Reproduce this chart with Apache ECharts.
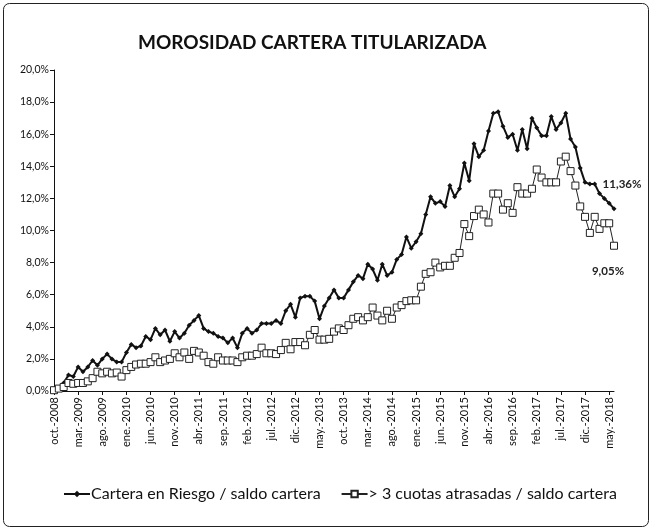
<!DOCTYPE html>
<html>
<head>
<meta charset="utf-8">
<script src="https://cdn.jsdelivr.net/npm/echarts@6/dist/echarts.min.js"></script>
<style>html,body{margin:0;padding:0;background:#fff}#c{width:653px;height:531px}</style>
</head>
<body>
<div id="c"></div>
<script>
var monthNames = ['ene.','feb.','mar.','abr.','may.','jun.','jul.','ago.','sep.','oct.','nov.','dic.'];
var startYear = 2008, startMonth = 9, monthCount = 117; // oct-2008 .. jun-2018
var categories = [];
for (var k = 0; k < monthCount; k++) {
  var m = (startMonth + k) % 12, y = startYear + Math.floor((startMonth + k) / 12);
  categories.push(monthNames[m] + '-' + y);
}
var carteraRiesgo = [
  0.05,0.2,0.5,1.0,0.9,1.5,1.2,1.5,1.9,1.6,
  2.0,2.3,2.0,1.8,1.8,2.4,2.9,2.7,2.8,3.4,
  3.2,3.9,3.5,3.8,3.1,3.7,3.3,3.6,4.1,4.4,
  4.7,3.9,3.7,3.6,3.4,3.3,3.0,3.3,2.7,3.6,
  3.9,3.6,3.8,4.2,4.2,4.2,4.4,4.2,5.0,5.4,
  4.6,5.8,5.9,5.9,5.6,4.5,5.3,5.8,6.3,5.8,
  5.8,6.3,6.8,7.2,7.0,7.9,7.6,6.9,7.9,7.2,
  7.4,8.2,8.5,9.6,8.9,9.3,9.8,11.0,12.1,11.7,
  11.8,11.5,12.8,12.1,12.6,14.2,13.1,15.4,14.6,15.0,
  16.2,17.3,17.4,16.5,15.8,16.0,15.0,16.3,15.1,17.0,
  16.4,15.9,15.9,17.1,16.3,16.7,17.3,15.7,15.2,13.9,
  13.0,12.9,12.9,12.3,12.0,11.7,11.36
];
var cuotasAtrasadas = [
  0.05,0.15,0.25,0.5,0.45,0.5,0.5,0.6,0.8,1.2,
  1.1,1.2,1.1,1.15,0.9,1.3,1.5,1.65,1.7,1.7,
  1.8,2.1,1.8,1.9,2.0,2.35,2.1,2.4,2.0,2.5,
  2.4,2.2,1.8,1.7,2.1,1.9,1.9,1.9,1.8,2.1,
  2.2,2.2,2.3,2.7,2.35,2.35,2.3,2.55,3.0,2.6,
  3.05,3.05,2.85,3.5,3.8,3.2,3.2,3.25,3.7,3.9,
  3.8,4.1,4.5,4.6,4.4,4.6,5.2,4.7,4.4,5.0,
  4.5,5.2,5.35,5.6,5.65,5.65,6.5,7.3,7.4,8.0,
  7.7,7.8,7.8,8.3,8.6,10.4,9.65,10.9,11.3,11.0,
  10.5,12.3,12.3,11.3,11.7,11.1,12.7,12.3,12.3,12.6,
  13.8,13.3,13.0,13.0,13.0,14.3,14.6,13.7,12.8,11.5,
  10.85,9.85,10.85,10.1,10.45,10.45,9.05
];
var seriesNames = ['Cartera en Riesgo / saldo cartera', '> 3 cuotas atrasadas / saldo cartera'];
var titleText = 'MOROSIDAD CARTERA TITULARIZADA';

function fmt(v, d) { return v.toFixed(d).replace('.', ',') + '%'; }
function withLastLabel(arr, pos, offset) {
  return arr.map(function (v, i) {
    if (i === arr.length - 1) {
      return { value: v, label: { show: true, position: pos, distance: 10, offset: offset,
        formatter: function (p) { return fmt(p.value, 2); },
        fontFamily: 'Lato', fontSize: 11.5, fontWeight: 'bold', color: '#222' } };
    }
    return v;
  });
}

var chart = echarts.init(document.getElementById('c'));
chart.setOption({
  backgroundColor: '#fff',
  animation: false,
  title: { text: titleText, left: 138, top: 33, padding: [0, 0, 0, 0],
    textStyle: { fontFamily: 'Lato', fontSize: 19, fontWeight: 'bold', color: '#111' } },
  graphic: [{ type: 'rect', shape: { x: 3.5, y: 3.5, width: 645, height: 523, r: 6 },
    style: { fill: 'none', stroke: '#222', lineWidth: 1 }, silent: true }],
  legend: {
    bottom: 24, left: 58, itemGap: 20, itemWidth: 26, itemHeight: 8,
    textStyle: { fontFamily: 'Lato', fontSize: 16, color: '#111', padding: [0, 0, 0, -4] },
    data: [seriesNames[0], seriesNames[1]]
  },
  grid: { left: 54, right: 39, top: 70, bottom: 140 },
  xAxis: {
    type: 'category', data: categories, boundaryGap: false,
    axisLine: { lineStyle: { color: '#111', width: 1 } },
    axisTick: { interval: 4, length: 4, lineStyle: { color: '#111' } },
    axisLabel: { interval: 4, rotate: 90, fontFamily: 'Lato', fontSize: 11, color: '#111', margin: 6 },
    splitLine: { show: false }
  },
  yAxis: {
    type: 'value', min: 0, max: 20, interval: 2,
    axisLine: { show: true, lineStyle: { color: '#111', width: 1 } },
    axisTick: { show: true, length: 4, lineStyle: { color: '#111' } },
    axisLabel: { formatter: function (v) { return fmt(v, 1); }, fontFamily: 'Lato', fontSize: 10.5, color: '#111', margin: 5 },
    splitLine: { show: false }
  },
  series: [
    { name: seriesNames[0], type: 'line', data: withLastLabel(carteraRiesgo, 'top', [8, -6]),
      symbol: 'diamond', symbolSize: 5, showAllSymbol: true,
      lineStyle: { color: '#111', width: 2 }, itemStyle: { color: '#111' } },
    { name: seriesNames[1], type: 'line', data: withLastLabel(cuotasAtrasadas, 'bottom', [-6, 6]),
      symbol: 'rect', symbolSize: 7, showAllSymbol: true,
      lineStyle: { color: '#222', width: 1 }, itemStyle: { color: '#fff', borderColor: '#222', borderWidth: 1 } }
  ]
});
</script>
</body>
</html>
